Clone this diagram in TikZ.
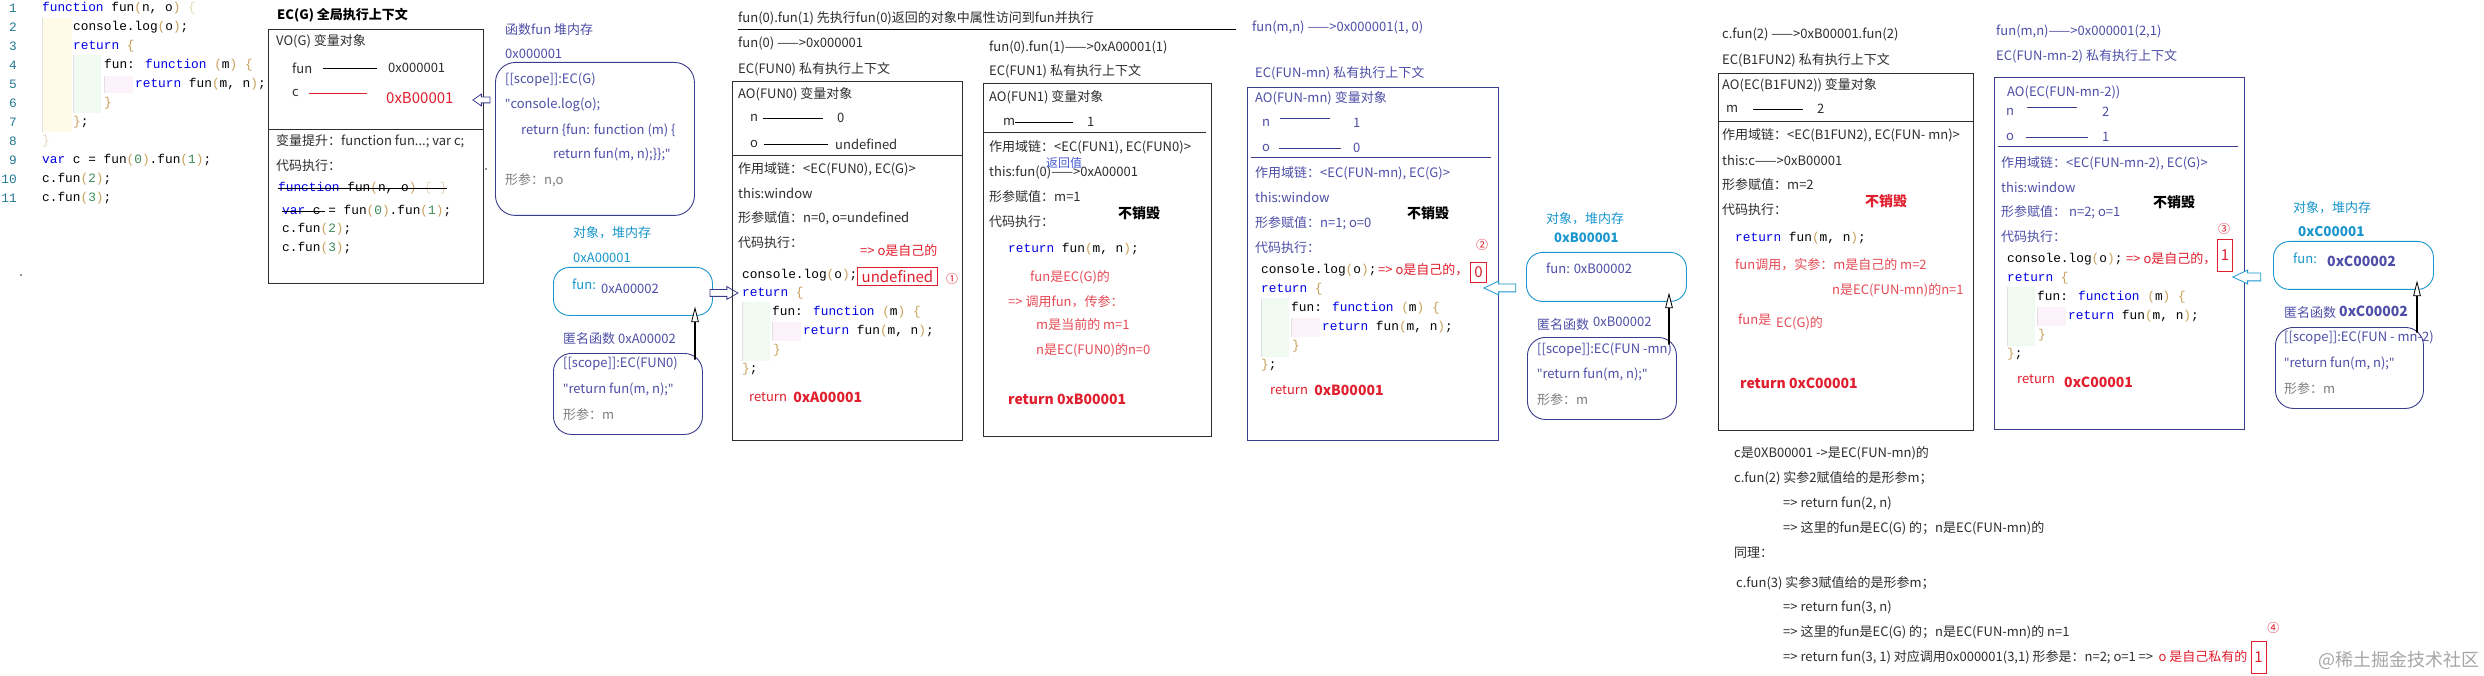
\documentclass[tikz,border=0pt]{standalone}
\usepackage{fontspec}
\setmainfont{Noto Sans CJK SC}
\newfontfamily\codefont{Liberation Mono}
\newfontfamily\qfont{Noto Sans}
\usetikzlibrary{positioning,shapes.arrows}

\definecolor{ink}{RGB}{45,45,45}
\definecolor{lnum}{RGB}{35,120,147}
\definecolor{kwblue}{RGB}{0,0,230}
\definecolor{brk}{RGB}{200,160,90}
\definecolor{brkf}{RGB}{228,218,190}
\definecolor{numg}{RGB}{60,140,90}
\definecolor{hred}{RGB}{225,30,45}
\definecolor{lred}{RGB}{230,75,85}
\definecolor{hpurple}{RGB}{78,78,168}
\definecolor{hbox}{RGB}{60,60,140}
\definecolor{hcyan}{RGB}{25,150,205}
\definecolor{hgray}{RGB}{125,125,125}
\definecolor{rvblue}{RGB}{70,90,210}
\definecolor{shy}{RGB}{255,251,232}
\definecolor{shg}{RGB}{240,250,240}
\definecolor{shp}{RGB}{252,242,250}

\newcommand\kw[1]{\textcolor{kwblue}{#1}}
\newcommand\pn[1]{\textcolor{brk}{#1}}
\newcommand\nm[1]{\textcolor{numg}{#1}}
\newcommand\dq{{\qfont"}}

\tikzset{
  txt/.style={anchor=west,inner sep=0pt,text=ink,font=\fontsize{13}{15}\selectfont},
  code/.style={txt,text=black,font=\codefont\fontsize{12.8}{15}\selectfont},
  rtxt/.style={txt,text=hred},
  ltxt/.style={txt,text=lred},
  ptxt/.style={txt,text=hpurple},
  ctxt/.style={txt,text=hcyan},
  gtxt/.style={txt,text=hgray},
  bignum/.style={font=\bfseries\fontsize{14}{16}\selectfont},
  keep/.style={txt,text=black,font=\bfseries\fontsize{14}{16}\selectfont},
  ecbox/.style={draw=ink,line width=1pt,anchor=north west,inner sep=0pt},
  heapbox/.style={draw=hbox,line width=0.9pt,rounded corners=18pt,anchor=north west,inner sep=0pt},
  objbox/.style={heapbox,draw=hcyan,rounded corners=16pt},
  hotbox/.style={draw=hred,line width=0.9pt,text=hred,inner sep=0pt,anchor=north west,font=\fontsize{15}{17}\selectfont},
  harrow/.style={single arrow,draw=#1,fill=white,line width=0.8pt,inner xsep=0pt,inner ysep=3pt,
    single arrow head extend=3pt,single arrow tip angle=60,anchor=center},
  varrow/.style={harrow=black,single arrow tip angle=28,shape border rotate=90}
}

\begin{document}
\begin{tikzpicture}[x=1pt,y=-1pt]
\useasboundingbox (0,0) rectangle (2484,676);
\fill[white] (0,0) rectangle (2484,676);

% source code
\fill[shy] (42,18) rectangle (72,132);
\fill[shg] (73,55) rectangle (101,113);
\fill[shp] (104,76) rectangle (133,93);
\draw[black!12] (42,18) -- (42,132) (73,55) -- (73,113) (104,76) -- (104,93);
\foreach \i in {1,...,11}
  \node[code,anchor=east,text=lnum] (ln\i) at (17,{8+19*(\i-1)}) {\i};
\node[code] (c1) at (42,8) {\kw{function} fun\pn{(}n, o\pn{)} \textcolor{brkf}{\{}};
\node[code] (c2) at (73,27) {console.log\pn{(}o\pn{)};};
\node[code] (c3) at (73,46) {\kw{return} \pn{\{}};
\node[code] (c4) at (104,65) {fun: \kw{function} \pn{(}m\pn{)} \pn{\{}};
\node[code] (c5) at (135,84) {\kw{return} fun\pn{(}m, n\pn{)};};
\node[code] (c6) at (104,103) {\pn{\}}};
\node[code] (c7) at (73,122) {\pn{\}};};
\node[code] (c8) at (42,141) {\textcolor{brkf}{\}}};
\node[code] (c9) at (42,160) {\kw{var} c = fun\pn{(}\nm{0}\pn{)}.fun\pn{(}\nm{1}\pn{)};};
\node[code] (c10) at (42,179) {c.fun\pn{(}\nm{2}\pn{)};};
\node[code] (c11) at (42,198) {c.fun\pn{(}\nm{3}\pn{)};};
\fill[ink] (21,275) circle (0.9);

% EC(G)
\node[txt,font=\bfseries\fontsize{13}{15}\selectfont,text=black] (ecgt) at (277,15) {EC(G) 全局执行上下文};
\node[ecbox,minimum width=215pt,minimum height=254pt] (ecg) at (268,29) {};
\draw[ink,line width=1pt] (ecg.west |- 0,130) -- (ecg.east |- 0,130);
\node[txt] (vog) at (276,41) {VO(G) 变量对象};
\node[txt] (gfun) at (292,68) {fun};
\node[txt] (gfunv) at (388,68) {0x000001};
\draw[black,line width=0.9pt] (323,68) -- (377,68);
\node[txt] (gc) at (292,93) {c};
\node[rtxt,font=\fontsize{15}{17}\selectfont] (gcv) at (386,98) {0xB00001};
\draw[hred,line width=0.9pt] (309,93) -- (367,93);
\node[txt] (ghoist) at (276,141) {变量提升：function fun...; var c;};
\node[txt] (grun) at (276,166) {代码执行：};
\node[code] (gs1) at (278,188) {\kw{function} fun\pn{(}n, o\pn{)} \textcolor{brkf}{\{ \}}};
\draw[black,line width=0.8pt] (gs1.west) -- (gs1.east);
\node[code] (gs2) at (282,211) {\kw{var} c = fun\pn{(}\nm{0}\pn{)}.fun\pn{(}\nm{1}\pn{)};};
\draw[black,line width=0.8pt] (gs2.west) -- ++(43,0);
\node[code] (gs3) at (282,229) {c.fun\pn{(}\nm{2}\pn{)};};
\node[code] (gs4) at (282,248) {c.fun\pn{(}\nm{3}\pn{)};};
\fill[ink] (486,169) circle (0.9);

% heap: function fun
\node[ptxt] (fnt) at (505,30) {函数fun 堆内存};
\node[ptxt] (fna) at (505,54) {0x000001};
\node[heapbox,minimum width=199pt,minimum height=153pt,rounded corners=20pt] (fnbox) at (495,62) {};
\node[ptxt] (fn1) at (505,80) {[[scope]]:EC(G)};
\node[ptxt] (fn2) at (505,105) {\dq console.log(o);};
\node[ptxt] (fn3) at (521,130) {return \{fun: function (m) \{};
\node[ptxt] (fn4) at (553,154) {return fun(m, n);\}\};\dq};
\node[gtxt] (fn5) at (505,180) {形参：n,o};
\node[harrow=hbox,inner ysep=2.5pt,single arrow tip angle=70,minimum height=17pt,shape border rotate=180] (fnar) at (483.5,100) {};

% heap: object 0xA00001
\node[ctxt] (oat) at (573,233) {对象，堆内存};
\node[ctxt] (oaa) at (573,258) {0xA00001};
\node[objbox,minimum width=159pt,minimum height=48pt] (objA) at (553,267) {};
\node[ctxt] (oaf) at (572,284) {fun:};
\node[ptxt] (oav) at (601,289) {0xA00002};
\node[ptxt] (ant) at (563,339) {匿名函数 0xA00002};
\node[heapbox,minimum width=149pt,minimum height=81pt] (anA) at (553,353) {};
\node[ptxt] (an1) at (563,364) {[[scope]]:EC(FUN0)};
\node[ptxt] (an2) at (563,389) {\dq return fun(m, n);\dq};
\node[gtxt] (an3) at (563,415) {形参：m};
\node[harrow=hbox,minimum height=28pt] (oaar) at (721,293) {};
\node[varrow,minimum height=51pt] (anaar) at (695,334.5) {};

% EC(FUN0)
\node[txt] (top) at (738,18) {fun(0).fun(1) 先执行fun(0)返回的对象中属性访问到fun并执行};
\draw[black,line width=0.9pt] (top.west |- 0,29) -- (1236,29);
\node[txt] (f0call) at (738,43) {fun(0) ——>0x000001};
\node[txt] (f0t) at (738,69) {EC(FUN0) 私有执行上下文};
\node[ecbox,minimum width=230pt,minimum height=359pt] (fun0) at (732,81) {};
\draw[ink,line width=1pt] (fun0.west |- 0,156) -- (fun0.east |- 0,156);
\node[txt] (f0ao) at (738,94) {AO(FUN0) 变量对象};
\node[txt] (f0n) at (750,118) {n};
\node[txt] (f0nv) at (837,118) {0};
\draw[black,line width=0.9pt] (763,118) -- (823,118);
\node[txt] (f0o) at (750,144) {o};
\node[txt] (f0ov) at (835,144) {undefined};
\draw[black,line width=0.9pt] (764,144) -- (828,144);
\node[txt] (f0s) at (738,169) {作用域链：<EC(FUN0), EC(G)>};
\node[txt] (f0w) at (738,193) {this:window};
\node[txt] (f0p) at (738,218) {形参赋值：n=0, o=undefined};
\node[txt] (f0r) at (738,243) {代码执行：};
\node[rtxt] (f0own) at (860,251) {=> o是自己的};
\node[code] (f0log) at (742,275) {console.log\pn{(}o\pn{)};};
\node[hotbox,minimum width=80pt,minimum height=18pt] (f0hot) at (857,267) {undefined};
\node[rtxt,anchor=center,font=\fontsize{12}{14}\selectfont] (f0no) at (952,279) {①};
\node[rtxt] (f0ret) at (749,397) {return};
\node[rtxt,bignum,right=6pt of f0ret] (f0retv) {0xA00001};

% EC(FUN1)
\node[txt] (f1call) at (989,47) {fun(0).fun(1)——>0xA00001(1)};
\node[txt] (f1t) at (989,71) {EC(FUN1) 私有执行上下文};
\node[ecbox,minimum width=228pt,minimum height=353pt] (fun1) at (983,83) {};
\draw[ink,line width=1pt] (fun1.west |- 0,133) -- (1206,133);
\node[txt] (f1ao) at (989,97) {AO(FUN1) 变量对象};
\node[txt] (f1m) at (1003,122) {m};
\node[txt] (f1mv) at (1087,122) {1};
\draw[black,line width=0.9pt] (1015,122) -- (1073,122);
\node[txt] (f1s) at (989,147) {作用域链：<EC(FUN1), EC(FUN0)>};
\node[txt] (f1w) at (989,172) {this:fun(0)——>0xA00001};
\node[txt,text=rvblue,font=\fontsize{12}{14}\selectfont] (f1rv) at (1046,163) {返回值};
\node[txt] (f1p) at (989,197) {形参赋值：m=1};
\node[txt] (f1r) at (989,222) {代码执行：};
\node[keep] (f1keep) at (1118,213) {不销毁};
\node[code] (f1c) at (1008,249) {\kw{return} fun\pn{(}m, n\pn{)};};
\node[ltxt] (f1e1) at (1030,277) {fun是EC(G)的};
\node[ltxt] (f1e2) at (1008,302) {=> 调用fun，传参：};
\node[ltxt] (f1e3) at (1036,325) {m是当前的 m=1};
\node[ltxt] (f1e4) at (1036,350) {n是EC(FUN0)的n=0};
\node[rtxt,bignum] (f1ret) at (1008,399) {return 0xB00001};

% EC(FUN-mn)
\node[ptxt] (mncall) at (1252,27) {fun(m,n) ——>0x000001(1, 0)};
\node[ptxt] (mnt) at (1255,73) {EC(FUN-mn) 私有执行上下文};
\node[ecbox,draw=hbox,minimum width=251pt,minimum height=353pt] (funmn) at (1247,87) {};
\draw[hbox,line width=1pt] (1251,158) -- (1491,158);
\node[ptxt] (mnao) at (1255,98) {AO(FUN-mn) 变量对象};
\node[ptxt] (mnn) at (1262,123) {n};
\node[ptxt] (mnnv) at (1353,123) {1};
\draw[hbox,line width=0.9pt] (1280,118) -- (1330,118);
\node[ptxt] (mno) at (1262,148) {o};
\node[ptxt] (mnov) at (1353,148) {0};
\draw[hbox,line width=0.9pt] (1279,148) -- (1341,148);
\node[ptxt] (mns) at (1255,173) {作用域链：<EC(FUN-mn), EC(G)>};
\node[ptxt] (mnw) at (1255,197) {this:window};
\node[ptxt] (mnp) at (1255,223) {形参赋值：n=1; o=0};
\node[keep] (mnkeep) at (1407,213) {不销毁};
\node[ptxt] (mnr) at (1255,248) {代码执行：};
\node[rtxt,anchor=center,font=\fontsize{12}{14}\selectfont] (mnno) at (1482,245) {②};
\node[code] (mnlog) at (1261,270) {console.log\pn{(}o\pn{)};};
\node[rtxt] (mnown) at (1378,270) {=> o是自己的，};
\node[hotbox,minimum width=16pt,minimum height=20pt] (mnhot) at (1470,262) {0};
\node[rtxt] (mnret) at (1270,390) {return};
\node[rtxt,bignum,right=6pt of mnret] (mnretv) {0xB00001};
\node[harrow=hcyan,inner ysep=3.5pt,single arrow tip angle=50,minimum height=32pt,shape border rotate=180] (obar) at (1504,288) {};

% heap: object 0xB00001
\node[ctxt] (obt) at (1546,219) {对象，堆内存};
\node[ctxt,font=\bfseries\fontsize{13}{15}\selectfont] (oba) at (1554,238) {0xB00001};
\node[objbox,minimum width=160pt,minimum height=49pt] (objB) at (1526,252) {};
\node[ptxt] (obf) at (1546,268) {fun: 0xB00002};
\node[ptxt] (anbt) at (1537,325) {匿名函数};
\node[ptxt] (anbv) at (1593,322) {0xB00002};
\node[heapbox,minimum width=149pt,minimum height=82pt] (anB) at (1527,337) {};
\node[ptxt] (anb1) at (1537,350) {[[scope]]:EC(FUN -mn)};
\node[ptxt] (anb2) at (1537,374) {\dq return fun(m, n);\dq};
\node[gtxt] (anb3) at (1537,400) {形参：m};
\node[varrow,minimum height=50pt] (anbar) at (1669,320) {};

% EC(B1FUN2)
\node[txt] (b2call) at (1722,34) {c.fun(2) ——>0xB00001.fun(2)};
\node[txt] (b2t) at (1722,60) {EC(B1FUN2) 私有执行上下文};
\node[ecbox,minimum width=255pt,minimum height=357pt] (b1fun2) at (1718,73) {};
\draw[ink,line width=1pt] (b1fun2.west |- 0,122) -- (b1fun2.east |- 0,122);
\node[txt] (b2ao) at (1722,85) {AO(EC(B1FUN2)) 变量对象};
\node[txt] (b2m) at (1726,109) {m};
\node[txt] (b2mv) at (1817,109) {2};
\draw[black,line width=0.9pt] (1753,109) -- (1803,109);
\node[txt] (b2s) at (1722,135) {作用域链：<EC(B1FUN2), EC(FUN- mn)>};
\node[txt] (b2w) at (1722,160) {this:c——>0xB00001};
\node[txt] (b2p) at (1722,185) {形参赋值：m=2};
\node[txt] (b2r) at (1722,210) {代码执行：};
\node[keep,text=hred] (b2keep) at (1865,201) {不销毁};
\node[code] (b2c) at (1735,238) {\kw{return} fun\pn{(}m, n\pn{)};};
\node[ltxt] (b2e1) at (1735,265) {fun调用，实参：m是自己的 m=2};
\node[ltxt] (b2e2) at (1832,290) {n是EC(FUN-mn)的n=1};
\node[ltxt] (b2e3) at (1738,320) {fun是};
\node[ltxt] (b2e4) at (1776,323) {EC(G)的};
\node[rtxt,bignum] (b2ret) at (1740,383) {return 0xC00001};

% notes below
\node[txt] (nt1) at (1734,453) {c是0XB00001 ->是EC(FUN-mn)的};
\node[txt] (nt2) at (1734,478) {c.fun(2) 实参2赋值给的是形参m；};
\node[txt] (nt3) at (1783,503) {=> return fun(2, n)};
\node[txt] (nt4) at (1783,528) {=> 这里的fun是EC(G) 的；n是EC(FUN-mn)的};
\node[txt] (nt5) at (1734,553) {同理：};
\node[txt] (nt6) at (1736,583) {c.fun(3) 实参3赋值给的是形参m；};
\node[txt] (nt7) at (1783,607) {=> return fun(3, n)};
\node[txt] (nt8) at (1783,632) {=> 这里的fun是EC(G) 的；n是EC(FUN-mn)的 n=1};
\node[txt] (nt9) at (1783,657) {=> return fun(3, 1) 对应调用0x000001(3,1) 形参是：n=2; o=1 =>};
\node[rtxt,right=5pt of nt9] (nt9r) {o 是自己私有的};
\node[hotbox,minimum width=15pt,minimum height=32pt,anchor=west,right=3pt of nt9r] (nt9b) {1};
\node[rtxt,anchor=center,font=\fontsize{12}{14}\selectfont] (nt9no) at ([xshift=7pt,yshift=13pt]nt9b.north east) {④};
\node[txt,text=black!35,font=\fontsize{18}{20}\selectfont] (wm) at (2318,660) {@稀土掘金技术社区};

% EC(FUN-mn-2)
\node[ptxt] (m2call) at (1996,31) {fun(m,n)——>0x000001(2,1)};
\node[ptxt] (m2t) at (1996,56) {EC(FUN-mn-2) 私有执行上下文};
\node[ecbox,draw=hbox,minimum width=250pt,minimum height=352pt] (funmn2) at (1994,77) {};
\draw[hbox,line width=1pt] (1998,147) -- (2238,147);
\node[ptxt] (m2ao) at (2007,92) {AO(EC(FUN-mn-2))};
\node[ptxt] (m2n) at (2006,112) {n};
\node[ptxt] (m2nv) at (2102,112) {2};
\draw[hbox,line width=0.9pt] (2027,107) -- (2077,107);
\node[ptxt] (m2o) at (2006,137) {o};
\node[ptxt] (m2ov) at (2102,137) {1};
\draw[hbox,line width=0.9pt] (2026,137) -- (2088,137);
\node[ptxt] (m2s) at (2001,163) {作用域链：<EC(FUN-mn-2), EC(G)>};
\node[ptxt] (m2w) at (2001,187) {this:window};
\node[ptxt] (m2p) at (2001,212) {形参赋值： n=2; o=1};
\node[keep] (m2keep) at (2153,202) {不销毁};
\node[ptxt] (m2r) at (2001,237) {代码执行：};
\node[rtxt,anchor=center,font=\fontsize{12}{14}\selectfont] (m2no) at (2224,229) {③};
\node[code] (m2log) at (2007,259) {console.log\pn{(}o\pn{)};};
\node[rtxt] (m2own) at (2126,259) {=> o是自己的，};
\node[hotbox,minimum width=15pt,minimum height=32pt] (m2hot) at (2217,239) {1};
\node[rtxt] (m2ret) at (2017,379) {return};
\node[rtxt,bignum] (m2retv) at (2064,382) {0xC00001};
\node[harrow=hcyan,inner ysep=3.5pt,single arrow tip angle=50,minimum height=28pt,shape border rotate=180] (ocar) at (2251,277) {};

% heap: object 0xC00001
\node[ctxt] (oct) at (2293,208) {对象，堆内存};
\node[ctxt,font=\bfseries\fontsize{13.5}{15}\selectfont] (oca) at (2298,231) {0xC00001};
\node[objbox,minimum width=160pt,minimum height=48pt] (objC) at (2273,241) {};
\node[ctxt] (ocf) at (2293,258) {fun:};
\node[ptxt,bignum] (ocv) at (2327,261) {0xC00002};
\node[ptxt] (anct) at (2284,313) {匿名函数};
\node[ptxt,bignum] (ancv) at (2339,311) {0xC00002};
\node[heapbox,minimum width=148pt,minimum height=81pt] (anC) at (2275,327) {};
\node[ptxt] (anc1) at (2284,338) {[[scope]]:EC(FUN - mn-2)};
\node[ptxt] (anc2) at (2284,363) {\dq return fun(m, n);\dq};
\node[gtxt] (anc3) at (2284,389) {形参：m};
\node[varrow,minimum height=50pt] (ancar) at (2417,308) {};

% returned object code, three times
\foreach \bx/\by/\bn in {742/293/a,1261/289/b,2007/278/c}{
  \fill[shg] (\bx,\by+9) rectangle (\bx+28,\by+68);
  \fill[shp] (\bx+31,\by+29) rectangle (\bx+59,\by+48);
  \draw[black!12] (\bx,\by+9) -- (\bx,\by+68) (\bx+30,\by+29) -- (\bx+30,\by+48);
  \node[code] (rb\bn1) at (\bx,\by) {\kw{return} \pn{\{}};
  \node[code] (rb\bn2) at (\bx+30,\by+19) {fun: \kw{function} \pn{(}m\pn{)} \pn{\{}};
  \node[code] (rb\bn3) at (\bx+61,\by+38) {\kw{return} fun\pn{(}m, n\pn{)};};
  \node[code] (rb\bn4) at (\bx+31,\by+57) {\pn{\}}};
  \node[code] (rb\bn5) at (\bx,\by+76) {\pn{\}};};
}
\end{tikzpicture}
\end{document}
